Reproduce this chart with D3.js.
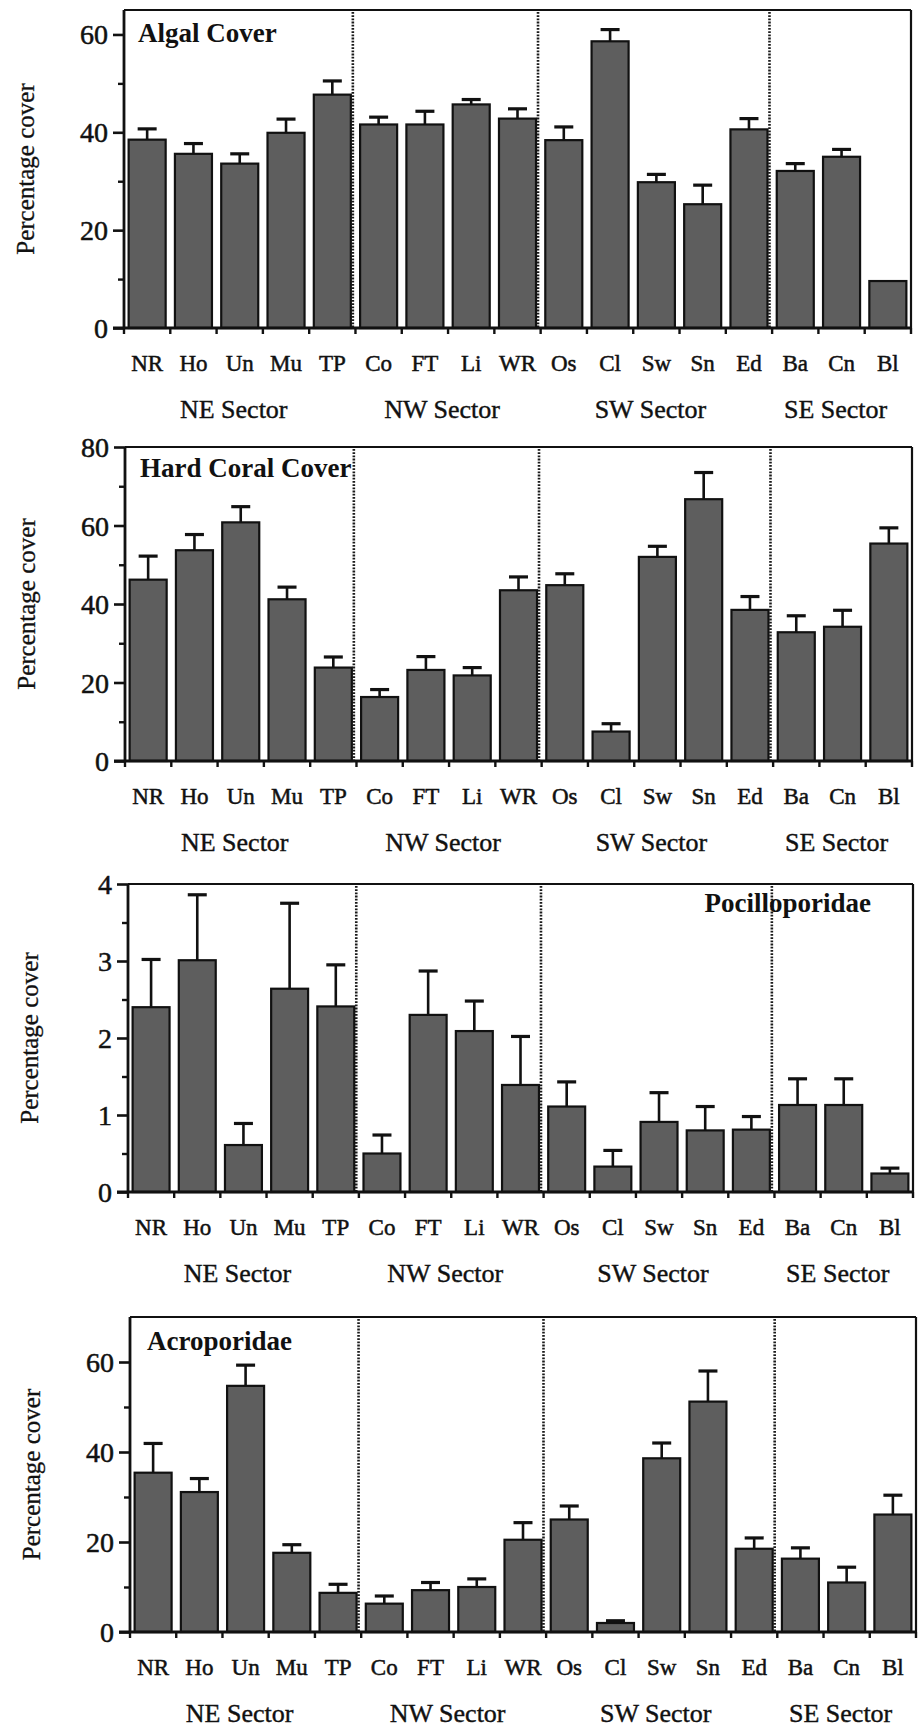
<!DOCTYPE html>
<html><head><meta charset="utf-8">
<script src="https://cdn.jsdelivr.net/npm/d3@7"></script>
<style>
body{margin:0;background:#fff}
svg{display:block}
text{font-family:"Liberation Serif","Times New Roman",Times,serif;fill:#111}
</style>
</head><body>
<svg id="chart" width="920" height="1732"></svg>
<script>
// ---------- data ----------
const categories = ["NR","Ho","Un","Mu","TP","Co","FT","Li","WR","Os","Cl","Sw","Sn","Ed","Ba","Cn","Bl"];
const sectorNames = ["NE Sector","NW Sector","SW Sector","SE Sector"];
const sectorCategories = [["NR","Ho","Un","Mu","TP"],["Co","FT","Li","WR"],["Os","Cl","Sw","Sn","Ed"],["Ba","Cn","Bl"]];
const panelTitles = ["Algal Cover","Hard Coral Cover","Pocilloporidae","Acroporidae"];
const yAxisTitle = "Percentage cover";

const algalMean = [38.5,35.6,33.6,39.9,47.7,41.6,41.6,45.7,42.8,38.4,58.6,29.8,25.3,40.6,32.1,35.0,9.6];
const algalSE   = [2.2,2.1,2.0,2.8,2.8,1.5,2.7,1.0,2.0,2.7,2.4,1.6,3.9,2.2,1.5,1.5,0];

const hardCoralMean = [46.2,53.7,60.8,41.2,23.8,16.3,23.2,21.8,43.5,44.8,7.5,52.0,66.7,38.5,32.8,34.2,55.4];
const hardCoralSE   = [6.0,4.0,4.0,3.1,2.7,1.9,3.4,2.0,3.4,2.9,2.0,2.7,6.8,3.4,4.2,4.2,4.0];

const pocilloMean = [2.40,3.01,0.61,2.64,2.41,0.50,2.30,2.09,1.39,1.11,0.33,0.91,0.80,0.81,1.13,1.13,0.24];
const pocilloSE   = [0.62,0.85,0.28,1.11,0.54,0.24,0.57,0.39,0.63,0.32,0.21,0.38,0.31,0.17,0.34,0.34,0.07];

const acroMean = [35.4,31.1,54.7,17.6,8.7,6.3,9.3,10.0,20.5,25.0,2.0,38.6,51.2,18.5,16.3,11.0,26.1];
const acroSE   = [6.5,3.0,4.6,1.8,1.9,1.7,1.7,1.8,3.8,3.0,0.5,3.4,6.8,2.4,2.4,3.4,4.3];

const algalTicks = [0,20,40,60], algalMinor = [10,30,50];
const hardTicks = [0,20,40,60,80], hardMinor = [10,30,50,70];
const pociTicks = [0,1,2,3,4], pociMinor = [0.5,1.5,2.5,3.5];
const acroTicks = [0,20,40,60], acroMinor = [10,30,50];

// ---------- layout ----------
const panels = [
  {title:panelTitles[0], mean:algalMean, se:algalSE, max:65, ticks:algalTicks, minor:algalMinor,
   left:124, right:911, top:10, zero:328, titlePos:{x:138,y:42,anchor:"start"}},
  {title:panelTitles[1], mean:hardCoralMean, se:hardCoralSE, max:80, ticks:hardTicks, minor:hardMinor,
   left:125, right:912, top:447, zero:761, titlePos:{x:140,y:477,anchor:"start"}},
  {title:panelTitles[2], mean:pocilloMean, se:pocilloSE, max:4, ticks:pociTicks, minor:pociMinor,
   left:128, right:913, top:884, zero:1192, titlePos:{x:871,y:912,anchor:"end"}},
  {title:panelTitles[3], mean:acroMean, se:acroSE, max:70, ticks:acroTicks, minor:acroMinor,
   left:130, right:916, top:1317, zero:1632, titlePos:{x:147,y:1350,anchor:"start"}}
];

const svg = d3.select("#chart");
const ink = "#111";

panels.forEach(p => {
  const g = svg.append("g");
  const x = d3.scaleBand().domain(categories).range([p.left, p.right]).paddingInner(0.2).paddingOuter(0.1);
  const y = d3.scaleLinear().domain([0, p.max]).range([p.zero, p.top]);
  const step = x.step();
  const boundary = c => x(c) - x.paddingOuter()*step;

  // frame top & right
  g.append("line").attr("x1",p.left).attr("x2",p.right).attr("y1",y(p.max)).attr("y2",y(p.max))
    .attr("stroke",ink).attr("stroke-width",2.2);
  g.append("line").attr("x1",p.right).attr("x2",p.right).attr("y1",y(p.max)).attr("y2",y(0))
    .attr("stroke",ink).attr("stroke-width",2.2);

  // sector dotted separators
  sectorCategories.slice(0,3).forEach(sc => {
    const last = sc[sc.length-1];
    const xx = x(last) + x.bandwidth() + 2;
    g.append("line").attr("x1",xx).attr("x2",xx).attr("y1",y(p.max)+2).attr("y2",y(0))
      .attr("stroke","#1a1a1a").attr("stroke-width",2.6).attr("stroke-dasharray","1.8,1.4");
  });

  // bars
  g.selectAll("rect.bar").data(categories).join("rect").attr("class","bar")
    .attr("x", c => x(c)).attr("width", x.bandwidth())
    .attr("y", (c,i) => y(p.mean[i])).attr("height", (c,i) => y(0) - y(p.mean[i]))
    .attr("fill","#5e5e5e").attr("stroke",ink).attr("stroke-width",2.2);

  // error bars (upper only)
  const capW = 19;
  categories.forEach((c,i) => {
    if (!p.se[i]) return;
    const cx = x(c) + x.bandwidth()/2;
    const yt = y(p.mean[i] + p.se[i]);
    g.append("line").attr("x1",cx).attr("x2",cx).attr("y1",y(p.mean[i])).attr("y2",yt)
      .attr("stroke",ink).attr("stroke-width",2.6);
    g.append("line").attr("x1",cx-capW/2).attr("x2",cx+capW/2).attr("y1",yt).attr("y2",yt)
      .attr("stroke",ink).attr("stroke-width",3.2);
  });

  // y axis major
  const yAx = g.append("g").attr("transform",`translate(${p.left},0)`)
    .call(d3.axisLeft(y).tickValues(p.ticks).tickSize(11).tickPadding(5).tickFormat(d3.format("d")));
  yAx.select(".domain").attr("stroke",ink).attr("stroke-width",2.8).attr("d",`M0,${y(p.max)}V${y(0)}`);
  yAx.selectAll(".tick line").attr("stroke",ink).attr("stroke-width",2.6);
  yAx.selectAll(".tick text").attr("font-size",28).attr("font-family",null).attr("fill",ink)
    .attr("stroke",ink).attr("stroke-width",0.5).attr("dy","0.34em");
  // y axis minor
  const yMin = g.append("g").attr("transform",`translate(${p.left},0)`)
    .call(d3.axisLeft(y).tickValues(p.minor).tickSize(6).tickFormat(""));
  yMin.select(".domain").remove();
  yMin.selectAll(".tick line").attr("stroke",ink).attr("stroke-width",2.4);

  // x axis
  g.append("line").attr("x1",p.left-11).attr("x2",p.right+1).attr("y1",y(0)).attr("y2",y(0))
    .attr("stroke",ink).attr("stroke-width",2.8);
  const bounds = categories.map(boundary).concat([p.right]);
  bounds.forEach(bx => {
    g.append("line").attr("x1",bx).attr("x2",bx).attr("y1",y(0)).attr("y2",y(0)+6)
      .attr("stroke",ink).attr("stroke-width",2.4);
  });

  // category labels
  g.selectAll("text.cat").data(categories).join("text").attr("class","cat")
    .attr("x", c => x(c) + x.bandwidth()/2).attr("y", y(0)+43)
    .attr("text-anchor","middle").attr("font-size",23)
    .attr("stroke",ink).attr("stroke-width",0.5).text(c => c);

  // sector labels
  sectorCategories.forEach((sc,k) => {
    const x0 = boundary(sc[0]);
    const lastIdx = categories.indexOf(sc[sc.length-1]);
    const x1 = lastIdx+1 < categories.length ? boundary(categories[lastIdx+1]) : p.right;
    g.append("text").attr("x",(x0+x1)/2 - 6).attr("y", y(0)+90)
      .attr("text-anchor","middle").attr("font-size",26)
      .attr("stroke",ink).attr("stroke-width",0.4).text(sectorNames[k]);
  });

  // y axis title
  g.append("text").attr("transform",`translate(${p.left-99},${(y(0)+y(p.max))/2}) rotate(-90)`)
    .attr("text-anchor","middle").attr("dy","0.35em").attr("font-size",25)
    .attr("stroke",ink).attr("stroke-width",0.3).text(yAxisTitle);

  // panel title
  g.append("text").attr("x",p.titlePos.x).attr("y",p.titlePos.y).attr("text-anchor",p.titlePos.anchor)
    .attr("font-size",27).attr("font-weight","bold").text(p.title);
});
</script>
</body></html>
